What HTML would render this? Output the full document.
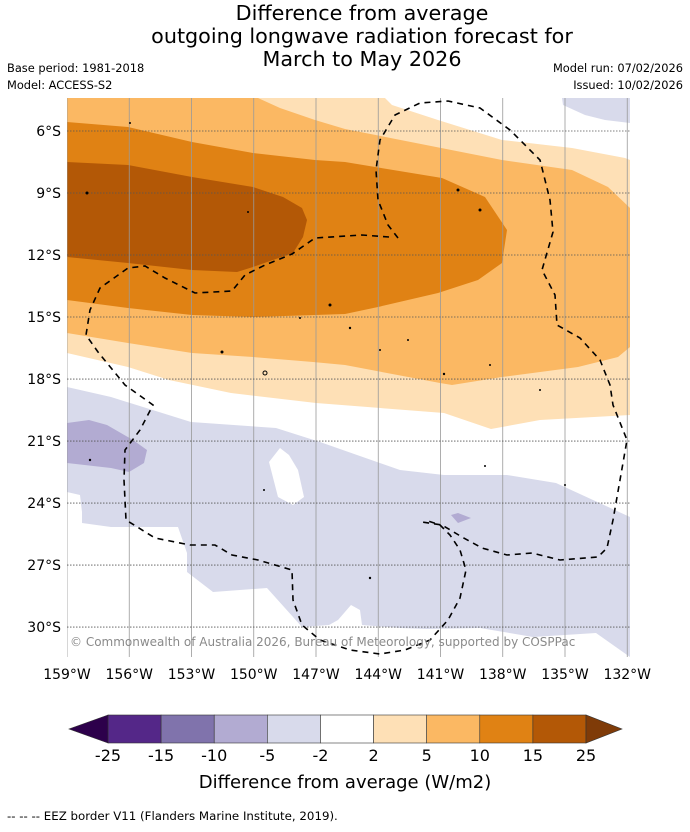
<!DOCTYPE html>
<html><head><meta charset="utf-8">
<style>
html,body{margin:0;padding:0;background:#fff;}
body{width:690px;height:827px;overflow:hidden;font-family:"Liberation Sans","DejaVu Sans",sans-serif;}
svg text{font-family:"DejaVu Sans","Liberation Sans",sans-serif;}
</style></head>
<body>
<svg id="chart" width="690" height="827" viewBox="0 0 690 827" xmlns="http://www.w3.org/2000/svg">
  <g font-size="20.7" text-anchor="middle" fill="#000">
    <text x="362" y="20">Difference from average</text>
    <text x="362" y="43">outgoing longwave radiation forecast for</text>
    <text x="362" y="66">March to May 2026</text>
  </g>
  <text x="7" y="72" font-size="11.4">Base period: 1981-2018</text>
  <text x="7" y="89" font-size="11.4">Model: ACCESS-S2</text>
  <text x="683" y="72" font-size="11.4" text-anchor="end">Model run: 07/02/2026</text>
  <text x="683" y="89" font-size="11.4" text-anchor="end">Issued: 10/02/2026</text>

  <defs><clipPath id="mapclip"><rect x="67" y="98" width="563" height="559"/></clipPath></defs>
  <g clip-path="url(#mapclip)">
    <rect x="67" y="98" width="563" height="559" fill="#fff"/>
    <path fill="#fee0b6" d="M67,98 L385,98 L392,105 L438,120 L502,140 L572,148 L625,158 L630,160 L630,415 L540,420 L491,429 L444,413 L316,403 L231,393 L169,380 L128,367 L67,353 Z"/>
    <path fill="#fbb863" d="M67,98 L258,98 L280,108 L315,120 L345,129 L502,160 L572,170 L608,187 L630,208 L630,347 L618,357 L578,367 L502,377 L452,385 L440,383 L345,365 L313,362 L253,357 L192,353 L128,343 L67,333 Z"/>
    <path fill="#e08214" d="M67,122 L128,127 L192,142 L253,153 L315,160 L345,162 L442,178 L485,197 L507,230 L502,263 L478,280 L438,293 L378,307 L345,314 L253,317 L192,315 L128,308 L67,300 Z"/>
    <path fill="#b35806" d="M67,162 L128,165 L192,177 L253,187 L283,197 L302,208 L307,220 L303,237 L293,253 L253,267 L237,272 L192,270 L128,263 L67,257 Z"/>
    <path fill="#d8daeb" d="M562,98 L563,105 L585,115 L605,120 L630,123 L630,98 Z"/>
    <path fill="#d8daeb" fill-rule="evenodd" d="M67,387 L111,397 L191,422 L276,428 L320,442 L400,470 L444,475 L507,475 L556,483 L630,517 L630,657 L596,633 L533,637 L480,628 L427,629 L400,628 L362,625 L360,610 L351,605 L338,620 L329,625 L302,627 L267,588 L213,592 L187,572 L187,553 L178,527 L111,527 L82,523 L82,512 L80,495 L67,492 Z M280,448 L269,462 L278,497 L293,505 L304,497 L298,470 L289,455 Z"/>
    <path fill="#b2abd2" d="M67,423 L89,420 L107,425 L133,440 L147,450 L144,463 L129,472 L111,468 L67,463 Z"/>
    <path fill="#b2abd2" d="M451,515 L458,513 L471,518 L458,523 Z"/>
    <g id="grid"></g>
    <g fill="none" stroke="#000" stroke-width="1.6" stroke-dasharray="6,5">
      <path d="M398,238 L388,225 L378,200 L376,170 L380,140 L395,115 L420,103 L448,101 L480,108 L510,130 L540,160 L550,200 L553,232 L542,270 L555,295 L557,325 L580,338 L600,360 L610,385 L613,405 L627,440 L620,480 L613,520 L607,548 L598,557 L560,560 L532,553 L507,555 L482,548 L462,537 L442,525 L422,522"/>
      <path d="M389,237 L362,235 L315,238 L292,254 L265,265 L245,275 L232,291 L195,293 L165,278 L145,266 L128,268 L100,288 L90,310 L86,335 L98,352 L125,385 L153,405 L140,430 L125,450 L124,480 L126,520 L155,538 L190,545 L215,545 L232,555 L258,560 L292,570 L293,600 L302,625 L320,640 L350,650 L380,654 L405,650 L430,640 L448,620 L460,598 L466,570 L460,550 L450,535 L440,525 L425,520"/>
    </g>
    <g fill="#000">
      <circle cx="87" cy="193" r="1.5"/><circle cx="130" cy="123" r="1"/><circle cx="248" cy="212" r="1"/>
      <circle cx="330" cy="305" r="1.5"/><circle cx="350" cy="328" r="1.2"/><circle cx="222" cy="352" r="1.5"/>
      <circle cx="265" cy="373" r="2" fill="none" stroke="#000"/><circle cx="458" cy="190" r="1.5"/>
      <circle cx="480" cy="210" r="1.5"/><circle cx="444" cy="374" r="1.2"/><circle cx="408" cy="340" r="1"/>
      <circle cx="380" cy="350" r="1"/><circle cx="300" cy="318" r="1"/><circle cx="485" cy="466" r="1"/>
      <circle cx="540" cy="390" r="1"/><circle cx="90" cy="460" r="1.2"/><circle cx="370" cy="578" r="1.2"/>
      <circle cx="264" cy="490" r="1"/><circle cx="565" cy="485" r="1"/><circle cx="490" cy="365" r="1"/>
    </g>
    <text x="70" y="646" font-size="12" fill="#8a8a8a">© Commonwealth of Australia 2026, Bureau of Meteorology, supported by COSPPac</text>
  </g>
  <g id="axes"></g>
  <g id="colorbar"></g>
  <text x="345" y="788" font-size="18" text-anchor="middle">Difference from average (W/m2)</text>
  <text x="7" y="820" font-size="11.8">--  --  -- EEZ border V11 (Flanders Marine Institute, 2019).</text>
</svg>
<script>
const latTicks = [6, 9, 12, 15, 18, 21, 24, 27, 30];
const lonTicks = [159, 156, 153, 150, 147, 144, 141, 138, 135, 132];
const cbLevels = [-25, -15, -10, -5, -2, 2, 5, 10, 15, 25];
const cbColors = ["#542788", "#8073ac", "#b2abd2", "#d8daeb", "#ffffff", "#fee0b6", "#fbb863", "#e08214", "#b35806"];
const cbExtendColors = ["#2d004b", "#7f3b08"];

const NS = "http://www.w3.org/2000/svg";
function xLon(w){ return 67 + (159 - w) * 20.75; }
function yLat(s){ return 131 + (s - 6) * 20.67; }
function mk(tag, attrs, parent){
  const e = document.createElementNS(NS, tag);
  for (const k in attrs) e.setAttribute(k, attrs[k]);
  parent.appendChild(e);
  return e;
}
const grid = document.getElementById('grid');
const axes = document.getElementById('axes');
lonTicks.forEach(w => {
  const x = xLon(w);
  const l = mk('line', {x1:x, x2:x, y1:98, y2:657, stroke:'#999', 'stroke-width':0.8}, grid);
  
  
  const t = mk('text', {x:x, y:679, 'font-size':14, 'text-anchor':'middle'}, axes);
  
  
  t.textContent = w + '°W';
});
latTicks.forEach(s => {
  const y = yLat(s);
  const l = mk('line', {x1:67, x2:630, y1:y, y2:y, stroke:'#555', 'stroke-width':0.8, 'stroke-dasharray':'1.5,1.5'}, grid);
  
  
  const t = mk('text', {x:61, y:y+5, 'font-size':14, 'text-anchor':'end'}, axes);
  
  
  t.textContent = s + '°S';
});

const cb = document.getElementById('colorbar');
const cbX0 = 108, cbX1 = 586, cbY0 = 715, cbY1 = 743;
const n = cbColors.length;
const bw = (cbX1 - cbX0) / n;
function xCb(i){ return cbX0 + i * bw; }
cbColors.forEach((c, i) => {
  const r = mk('rect', {x:xCb(i), y:cbY0, width:bw, height:cbY1-cbY0, fill:c, stroke:'#333', 'stroke-width':0.6}, cb);
  
  
});
const tl = mk('polygon', {points:`${cbX0},${cbY0} ${cbX0},${cbY1} 69,${(cbY0+cbY1)/2}`, fill:cbExtendColors[0], stroke:'#333', 'stroke-width':0.6}, cb);


const tr = mk('polygon', {points:`${cbX1},${cbY0} ${cbX1},${cbY1} 622,${(cbY0+cbY1)/2}`, fill:cbExtendColors[1], stroke:'#333', 'stroke-width':0.6}, cb);


cbLevels.forEach((v, i) => {
  const t = mk('text', {x:xCb(i), y:761, 'font-size':16, 'text-anchor':'middle'}, cb);
  
  
  t.textContent = v;
});
</script>
</body></html>
